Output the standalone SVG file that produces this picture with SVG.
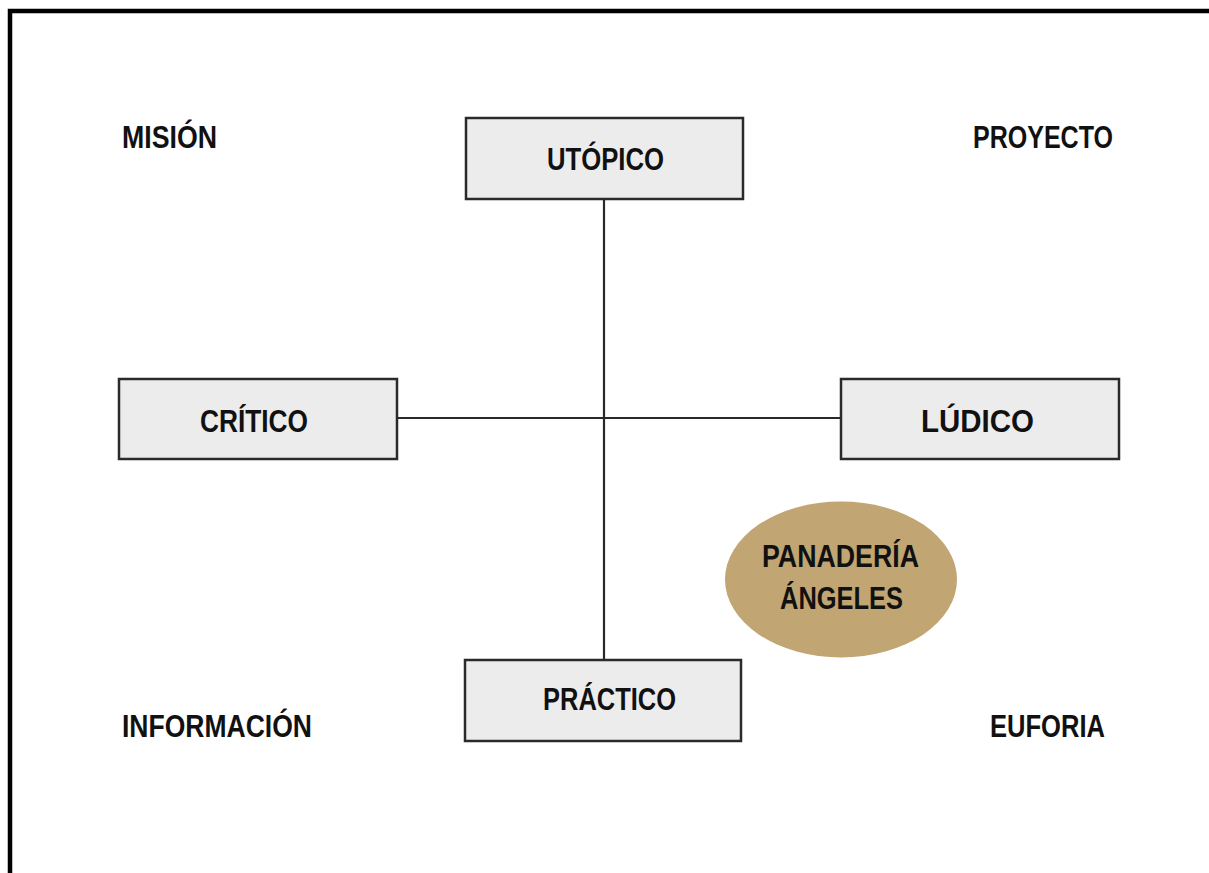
<svg xmlns="http://www.w3.org/2000/svg" width="1209" height="873" viewBox="0 0 1209 873">
<style>
.t{font-family:"Liberation Sans Narrow","Liberation Sans",Arial,sans-serif;font-weight:bold;font-size:32px;fill:#111;}
.box{fill:#ececec;stroke:#2a2a2a;stroke-width:2.5;}
.ln{stroke:#2a2a2a;stroke-width:2.2;fill:none;}
</style>
<rect x="0" y="0" width="1209" height="873" fill="#fff"/>
<rect x="10" y="11" width="1220" height="880" fill="none" stroke="#000" stroke-width="4.5"/>
<g id="connectors">
<line class="ln" x1="604" y1="199" x2="604" y2="659"/>
<line class="ln" x1="397" y1="418" x2="841" y2="418"/>
</g>
<g id="utopico">
<rect class="box" x="466" y="118" width="277" height="81"/>
<text class="t" x="547" y="170" textLength="117" lengthAdjust="spacingAndGlyphs">UTÓPICO</text>
</g>
<g id="critico">
<rect class="box" x="119" y="379" width="278" height="80"/>
<text class="t" x="200" y="432" textLength="108" lengthAdjust="spacingAndGlyphs">CRÍTICO</text>
</g>
<g id="ludico">
<rect class="box" x="841" y="379" width="278" height="80"/>
<text class="t" x="921" y="432" textLength="113" lengthAdjust="spacingAndGlyphs">LÚDICO</text>
</g>
<g id="practico">
<rect class="box" x="465" y="660" width="276" height="81"/>
<text class="t" x="543" y="710" textLength="133" lengthAdjust="spacingAndGlyphs">PRÁCTICO</text>
</g>
<g id="panaderia">
<ellipse cx="841" cy="579.5" rx="116" ry="78" fill="#c1a572"/>
<text class="t" x="762" y="567" textLength="157" lengthAdjust="spacingAndGlyphs">PANADERÍA</text>
<text class="t" x="780" y="609" textLength="123" lengthAdjust="spacingAndGlyphs">ÁNGELES</text>
</g>
<g id="mision"><text class="t" x="122" y="148" textLength="95" lengthAdjust="spacingAndGlyphs">MISIÓN</text></g>
<g id="proyecto"><text class="t" x="973" y="148" textLength="140" lengthAdjust="spacingAndGlyphs">PROYECTO</text></g>
<g id="informacion"><text class="t" x="122" y="737" textLength="190" lengthAdjust="spacingAndGlyphs">INFORMACIÓN</text></g>
<g id="euforia"><text class="t" x="990" y="737" textLength="115" lengthAdjust="spacingAndGlyphs">EUFORIA</text></g>
</svg>
